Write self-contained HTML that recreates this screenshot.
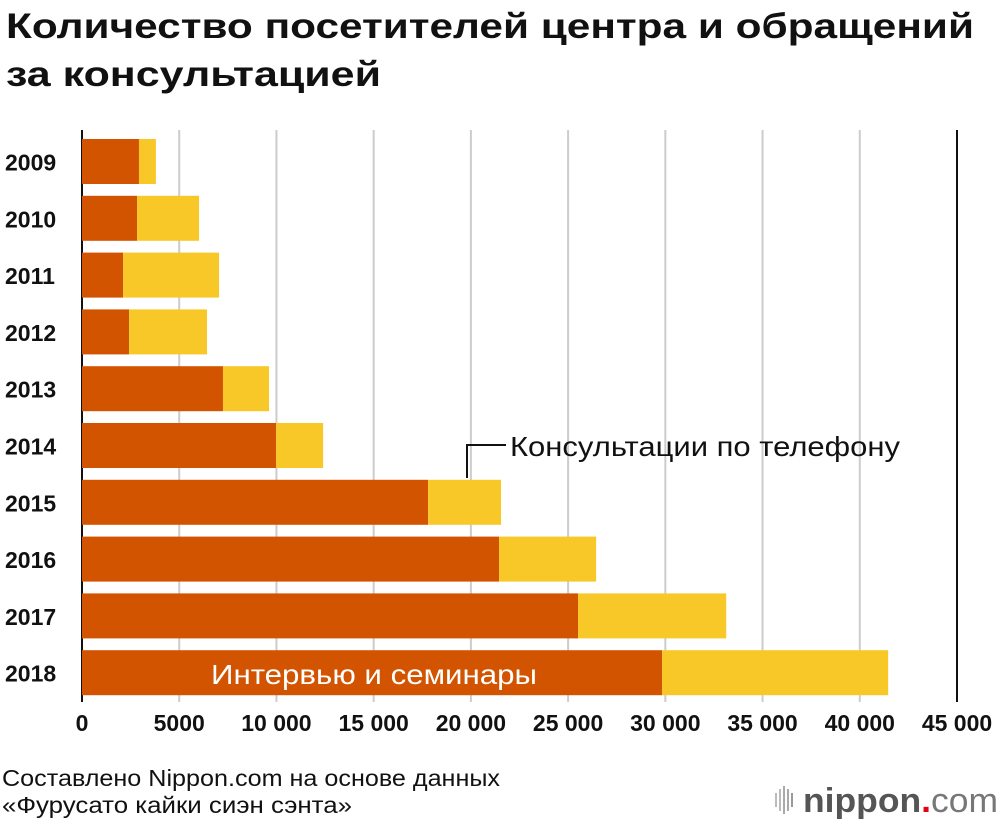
<!DOCTYPE html>
<html><head><meta charset="utf-8"><style>
body{margin:0;background:#fff;font-family:"Liberation Sans","DejaVu Sans",sans-serif;}
</style></head><body>
<svg width="1000" height="826" xmlns="http://www.w3.org/2000/svg">
<text x="6" y="38" font-size="35" font-weight="bold" fill="#111" textLength="968" lengthAdjust="spacingAndGlyphs">Количество посетителей центра и обращений</text>
<text x="6" y="86" font-size="35" font-weight="bold" fill="#111" textLength="375" lengthAdjust="spacingAndGlyphs">за консультацией</text>
<g id="grid"></g><g id="bars"></g><g id="labels"></g>
<polyline points="467,478 467,445 506,445" fill="none" stroke="#111" stroke-width="2"/>
<text x="510" y="456" font-size="28" fill="#111" textLength="390" lengthAdjust="spacingAndGlyphs">Консультации по телефону</text>
<text x="211" y="684" font-size="28" fill="#fff" textLength="326" lengthAdjust="spacingAndGlyphs">Интервью и семинары</text>
<text x="2" y="786" font-size="23" fill="#111" textLength="498" lengthAdjust="spacingAndGlyphs">Составлено Nippon.com на основе данных</text>
<text x="2" y="813" font-size="23" fill="#111" textLength="350" lengthAdjust="spacingAndGlyphs">«Фурусато кайки сиэн сэнта»</text>
<g>
<rect x="775" y="793" width="2" height="14" fill="#bbb"/><rect x="779" y="789" width="2" height="22" fill="#bbb"/><rect x="783" y="786" width="2" height="28" fill="#aaa"/><rect x="787" y="789" width="2" height="22" fill="#aaa"/><rect x="791" y="793" width="2" height="14" fill="#999"/>
<text x="803" y="812" font-size="34" fill="#555" font-weight="bold" textLength="195" lengthAdjust="spacingAndGlyphs">nippon<tspan fill="#e60012">.</tspan><tspan fill="#777" font-weight="normal">com</tspan></text>
</g>
</svg>
<script>
const years=["2009","2010","2011","2012","2013","2014","2015","2016","2017","2018"];
const interviews=[2930,2830,2110,2420,7250,9980,17800,21450,25510,29830];
const phone=[870,3190,4940,4010,2370,2420,3750,4990,7620,11630];
const ticks=[0,5000,10000,15000,20000,25000,30000,35000,40000,45000];
const tickLabels=["0","5000","10 000","15 000","20 000","25 000","30 000","35 000","40 000","45 000"];
const NS="http://www.w3.org/2000/svg";
const x=v=>82+v*875/45000;
const yc=i=>161.5+56.8*i;
function mk(t,a,p){const e=document.createElementNS(NS,t);for(const k in a)e.setAttribute(k,a[k]);p.appendChild(e);return e;}
const g=document.getElementById('grid'),b=document.getElementById('bars'),l=document.getElementById('labels');
ticks.forEach((v,i)=>{
 const ln=mk('line',{x1:x(v),x2:x(v),y1:130,y2:702,stroke:(i==0||i==9)?'#111':'#ccc','stroke-width':2},g);
 
 
 const t=mk('text',{x:x(v),y:731,'font-size':23,'text-anchor':'middle',fill:'#111','font-weight':'bold'},l);
 t.textContent=tickLabels[i];
 
 
});
years.forEach((yr,i)=>{
 const r1=mk('rect',{x:x(0),y:yc(i)-22.5,width:x(interviews[i])-x(0),height:45,fill:'#d35400'},b);
 
 
 const r2=mk('rect',{x:x(interviews[i]),y:yc(i)-22.5,width:x(interviews[i]+phone[i])-x(interviews[i]),height:45,fill:'#f8c828'},b);
 
 
 const t=mk('text',{x:5,y:yc(i)+9,'font-size':23,fill:'#111','font-weight':'bold'},l);
 t.textContent=yr;
 
 
});
</script>
</body></html>
